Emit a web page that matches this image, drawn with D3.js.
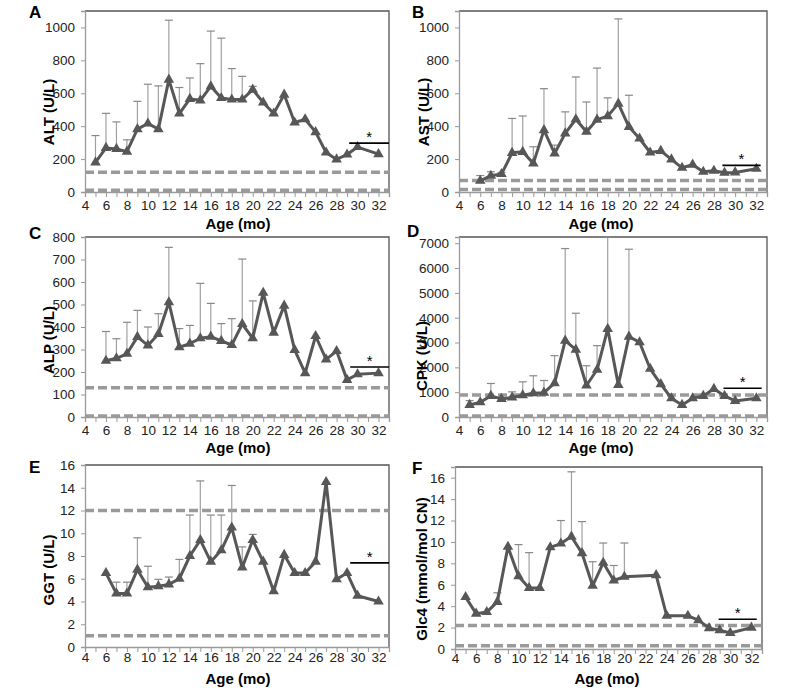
<!DOCTYPE html>
<html><head><meta charset="utf-8">
<script src="https://cdn.jsdelivr.net/npm/d3@7"></script>
<style>body{margin:0;background:#fff}svg{display:block}</style>
</head><body><svg id="c" width="796" height="688"></svg>
<script>
// ---------- DATA ----------
const xTickLabels = [4,6,8,10,12,14,16,18,20,22,24,26,28,30,32];

const altMonths = [5,6,7,8,9,10,11,12,13,14,15,16,17,18,19,20,21,22,23,24,25,26,27,28,29,30,32];
const altValues = [180,268,262,245,382,416,382,683,477,566,557,642,571,562,562,622,544,477,592,422,442,364,240,198,228,273,230];
const altErrTop = [343,478,426,317,551,655,645,1044,635,693,780,978,935,750,703,642,null,null,null,null,null,null,null,null,null,null,null];
const altTicks = [0,200,400,600,800,1000];
const altRefLines = [120,10];
const altSig = [29.2,33,297];

const astMonths = [6,7,8,9,10,11,12,13,14,15,16,17,18,19,20,21,22,23,24,25,26,27,28,29,30,32];
const astValues = [68,99,109,238,244,174,376,234,356,442,366,440,461,537,396,325,240,250,198,147,166,123,129,117,119,141];
const astErrTop = [100,123,119,447,462,275,628,285,487,699,547,753,572,1052,588,null,null,null,null,null,null,null,null,null,null,null];
const astTicks = [0,200,400,600,800,1000];
const astRefLines = [70,15];
const astSig = [28.8,32.4,162];

const alpMonths = [6,7,8,9,10,11,12,13,14,15,16,17,18,19,20,21,22,23,24,25,26,27,28,29,30,32];
const alpValues = [250,261,281,356,318,369,510,310,326,350,357,338,320,413,350,552,375,495,298,195,360,256,293,165,190,195];
const alpErrTop = [380,348,421,474,400,459,754,393,407,594,505,415,437,702,516,null,null,null,null,null,null,null,null,null,null,null];
const alpTicks = [0,100,200,300,400,500,600,700,800];
const alpRefLines = [130,5];
const alpSig = [29.3,33,222];

const cpkMonths = [5,6,7,8,9,10,11,12,13,14,15,16,17,18,19,20,21,22,23,24,25,26,27,28,29,30,32];
const cpkValues = [486,594,850,728,782,877,958,980,1362,3075,2711,1268,1902,3548,1295,3238,3009,1942,1322,755,486,755,850,1133,850,648,755];
const cpkErrTop = [660,null,1350,null,1012,1417,1660,1470,2470,6785,4180,2064,2873,7232,null,6758,null,null,null,null,null,null,null,null,null,null,null];
const cpkTicks = [0,1000,2000,3000,4000,5000,6000,7000];
const cpkRefLines = [890,40];
const cpkSig = [28.9,32.5,1160];

const ggtMonths = [6,7,8,9,10,11,12,13,14,15,16,17,18,19,20,21,22,23,24,25,26,27,28,29,30,32];
const ggtValues = [6.5,4.7,4.7,6.8,5.25,5.35,5.5,6.0,8.0,9.4,7.5,8.5,10.5,7.0,9.4,7.5,4.9,8.1,6.5,6.5,7.5,14.5,5.95,6.5,4.5,4.0];
const ggtErrTop = [null,5.7,5.7,9.6,7.1,5.95,6.15,7.7,11.6,14.6,11.6,11.6,14.2,8.8,9.9,null,null,null,null,null,null,null,null,null,null,null];
const ggtTicks = [0,2,4,6,8,10,12,14,16];
const ggtRefLines = [12,1];
const ggtSig = [29.3,33,7.4];

const glcMonths = [5,6,7,8,9,10,11,12,13,14,15,16,17,18,19,20,23,24,26,27,28,29,30,32];
const glcValues = [4.85,3.3,3.45,4.4,9.55,6.8,5.7,5.7,9.5,9.85,10.5,8.95,5.9,8.05,6.4,6.75,6.9,3.1,3.1,2.7,1.95,1.75,1.5,2.0];
const glcErrTop = [null,null,null,5.25,null,9.75,9.0,null,null,12.0,16.55,11.9,8.15,9.9,7.8,9.9,null,null,null,null,null,null,null,null];
const glcTicks = [0,2,4,6,8,10,12,14,16];
const glcRefLines = [2.2,0.3];
const glcSig = [28.9,32.5,2.78];

// ---------- LAYOUT ----------
const panels = [
  {letter:'A', ylab:'ALT (U/L)', months:altMonths, vals:altValues, err:altErrTop, ticks:altTicks, refs:altRefLines, sig:altSig, yMax:1100,
   box:{l:85,r:389,t:11,b:192}, letterPos:[29,18], ylabPos:[48,112], xtitle:[238,223], xpad:8},
  {letter:'B', ylab:'AST (U/L)', months:astMonths, vals:astValues, err:astErrTop, ticks:astTicks, refs:astRefLines, sig:astSig, yMax:1100,
   box:{l:459,r:767,t:11,b:192}, letterPos:[412,18], ylabPos:[423,112], xtitle:[601,223], xpad:8},
  {letter:'C', ylab:'ALP (U/L)', months:alpMonths, vals:alpValues, err:alpErrTop, ticks:alpTicks, refs:alpRefLines, sig:alpSig, yMax:800,
   box:{l:85,r:389,t:237,b:417}, letterPos:[29,239], ylabPos:[48,340], xtitle:[238,447], xpad:8},
  {letter:'D', ylab:'CPK (U/L)', months:cpkMonths, vals:cpkValues, err:cpkErrTop, ticks:cpkTicks, refs:cpkRefLines, sig:cpkSig, yMax:7250,
   box:{l:459,r:767,t:237,b:417}, letterPos:[407,237], ylabPos:[421,356], xtitle:[601,447], xpad:8},
  {letter:'E', ylab:'GGT (U/L)', months:ggtMonths, vals:ggtValues, err:ggtErrTop, ticks:ggtTicks, refs:ggtRefLines, sig:ggtSig, yMax:16,
   box:{l:85,r:389,t:465,b:647}, letterPos:[29,473], ylabPos:[48,570], xtitle:[238,678], xpad:5},
  {letter:'F', ylab:'Glc4 (mmol/mol CN)', months:glcMonths, vals:glcValues, err:glcErrTop, ticks:glcTicks, refs:glcRefLines, sig:glcSig, yMax:17,
   box:{l:455,r:762,t:467,b:649}, letterPos:[412,474], ylabPos:[421,569], xtitle:[607,678], xpad:4}
];

const svg = d3.select('#c');
const FONT = 'Liberation Sans, Arial, sans-serif';
const lineCol = '#575757';

panels.forEach(p => {
  const b = p.box;
  const x = d3.scaleLinear().domain([4,33]).range([b.l,b.r]);
  const y = d3.scaleLinear().domain([0,p.yMax]).range([b.b,b.t]);
  const g = svg.append('g');

  g.append('path').attr('d',`M${b.l},${b.t}H${b.r}V${b.b}`).attr('fill','none').attr('stroke','#555').attr('stroke-width',1.3);

  p.refs.forEach(v => {
    g.append('line').attr('x1',b.l).attr('x2',b.r).attr('y1',y(v)).attr('y2',y(v))
      .attr('stroke','#9a9a9a').attr('stroke-width',3.5).attr('stroke-dasharray','9,4');
  });

  const ya = g.append('g').attr('transform',`translate(${b.l},0)`)
    .call(d3.axisLeft(y).tickValues(p.ticks).tickSize(4).tickPadding(6).tickFormat(d3.format('d')));
  ya.select('.domain').attr('stroke','#9a9a9a').attr('stroke-width',1.3);
  ya.selectAll('.tick line').attr('stroke','#9a9a9a');
  ya.selectAll('text').attr('font-family',FONT).attr('font-size',13.5).attr('fill','#222');

  const xa = g.append('g').attr('transform',`translate(0,${b.b})`)
    .call(d3.axisBottom(x).tickValues(d3.range(4,34,1)).tickSize(5).tickFormat(''));
  xa.select('.domain').attr('stroke','#9a9a9a').attr('stroke-width',1.3);
  xa.selectAll('.tick line').attr('stroke','#9a9a9a');
  const xl = g.append('g').attr('transform',`translate(0,${b.b})`)
    .call(d3.axisBottom(x).tickValues(xTickLabels).tickSize(0).tickPadding(p.xpad).tickFormat(d3.format('d')));
  xl.select('.domain').remove();
  xl.selectAll('text').attr('font-family',FONT).attr('font-size',13.5).attr('fill','#222');

  const pts = p.months.map((m,i)=>({m, v:p.vals[i], e:p.err[i]}));

  pts.filter(d=>d.e!=null).forEach(d=>{
    g.append('line').attr('x1',x(d.m)).attr('x2',x(d.m)).attr('y1',y(d.v)).attr('y2',y(d.e))
      .attr('stroke','#a0a0a0').attr('stroke-width',1.2);
    g.append('line').attr('x1',x(d.m)-4).attr('x2',x(d.m)+4).attr('y1',y(d.e)).attr('y2',y(d.e))
      .attr('stroke','#888').attr('stroke-width',1.2);
  });

  g.append('path').datum(pts)
    .attr('d',d3.line().x(d=>x(d.m)).y(d=>y(d.v)))
    .attr('fill','none').attr('stroke',lineCol).attr('stroke-width',3).attr('stroke-linejoin','round');

  g.selectAll('path.tri').data(pts).enter().append('path').attr('class','tri')
    .attr('d',d3.symbol().type(d3.symbolTriangle).size(48))
    .attr('transform',d=>`translate(${x(d.m)},${y(d.v)})`)
    .attr('fill',lineCol);

  const [s0,s1,sv] = p.sig;
  g.append('line').attr('x1',x(s0)).attr('x2',x(s1)).attr('y1',y(sv)).attr('y2',y(sv))
    .attr('stroke','#000').attr('stroke-width',1.6);
  g.append('text').attr('x',x((s0+s1)/2)).attr('y',y(sv)-1).attr('text-anchor','middle')
    .attr('font-family',FONT).attr('font-size',15).attr('fill','#000').text('*');

  g.append('text').attr('x',p.letterPos[0]).attr('y',p.letterPos[1])
    .attr('font-family',FONT).attr('font-weight','bold').attr('font-size',17).attr('fill','#000').text(p.letter);
  g.append('text').attr('transform',`translate(${p.ylabPos[0]},${p.ylabPos[1]}) rotate(-90)`)
    .attr('text-anchor','middle').attr('dominant-baseline','central')
    .attr('font-family',FONT).attr('font-weight','bold').attr('font-size',15).attr('fill','#000').text(p.ylab);
  g.append('text').attr('x',p.xtitle[0]).attr('y',p.xtitle[1]).attr('text-anchor','middle').attr('dominant-baseline','central')
    .attr('font-family',FONT).attr('font-weight','bold').attr('font-size',15).attr('fill','#000').text('Age (mo)');
});
</script>
</body></html>
